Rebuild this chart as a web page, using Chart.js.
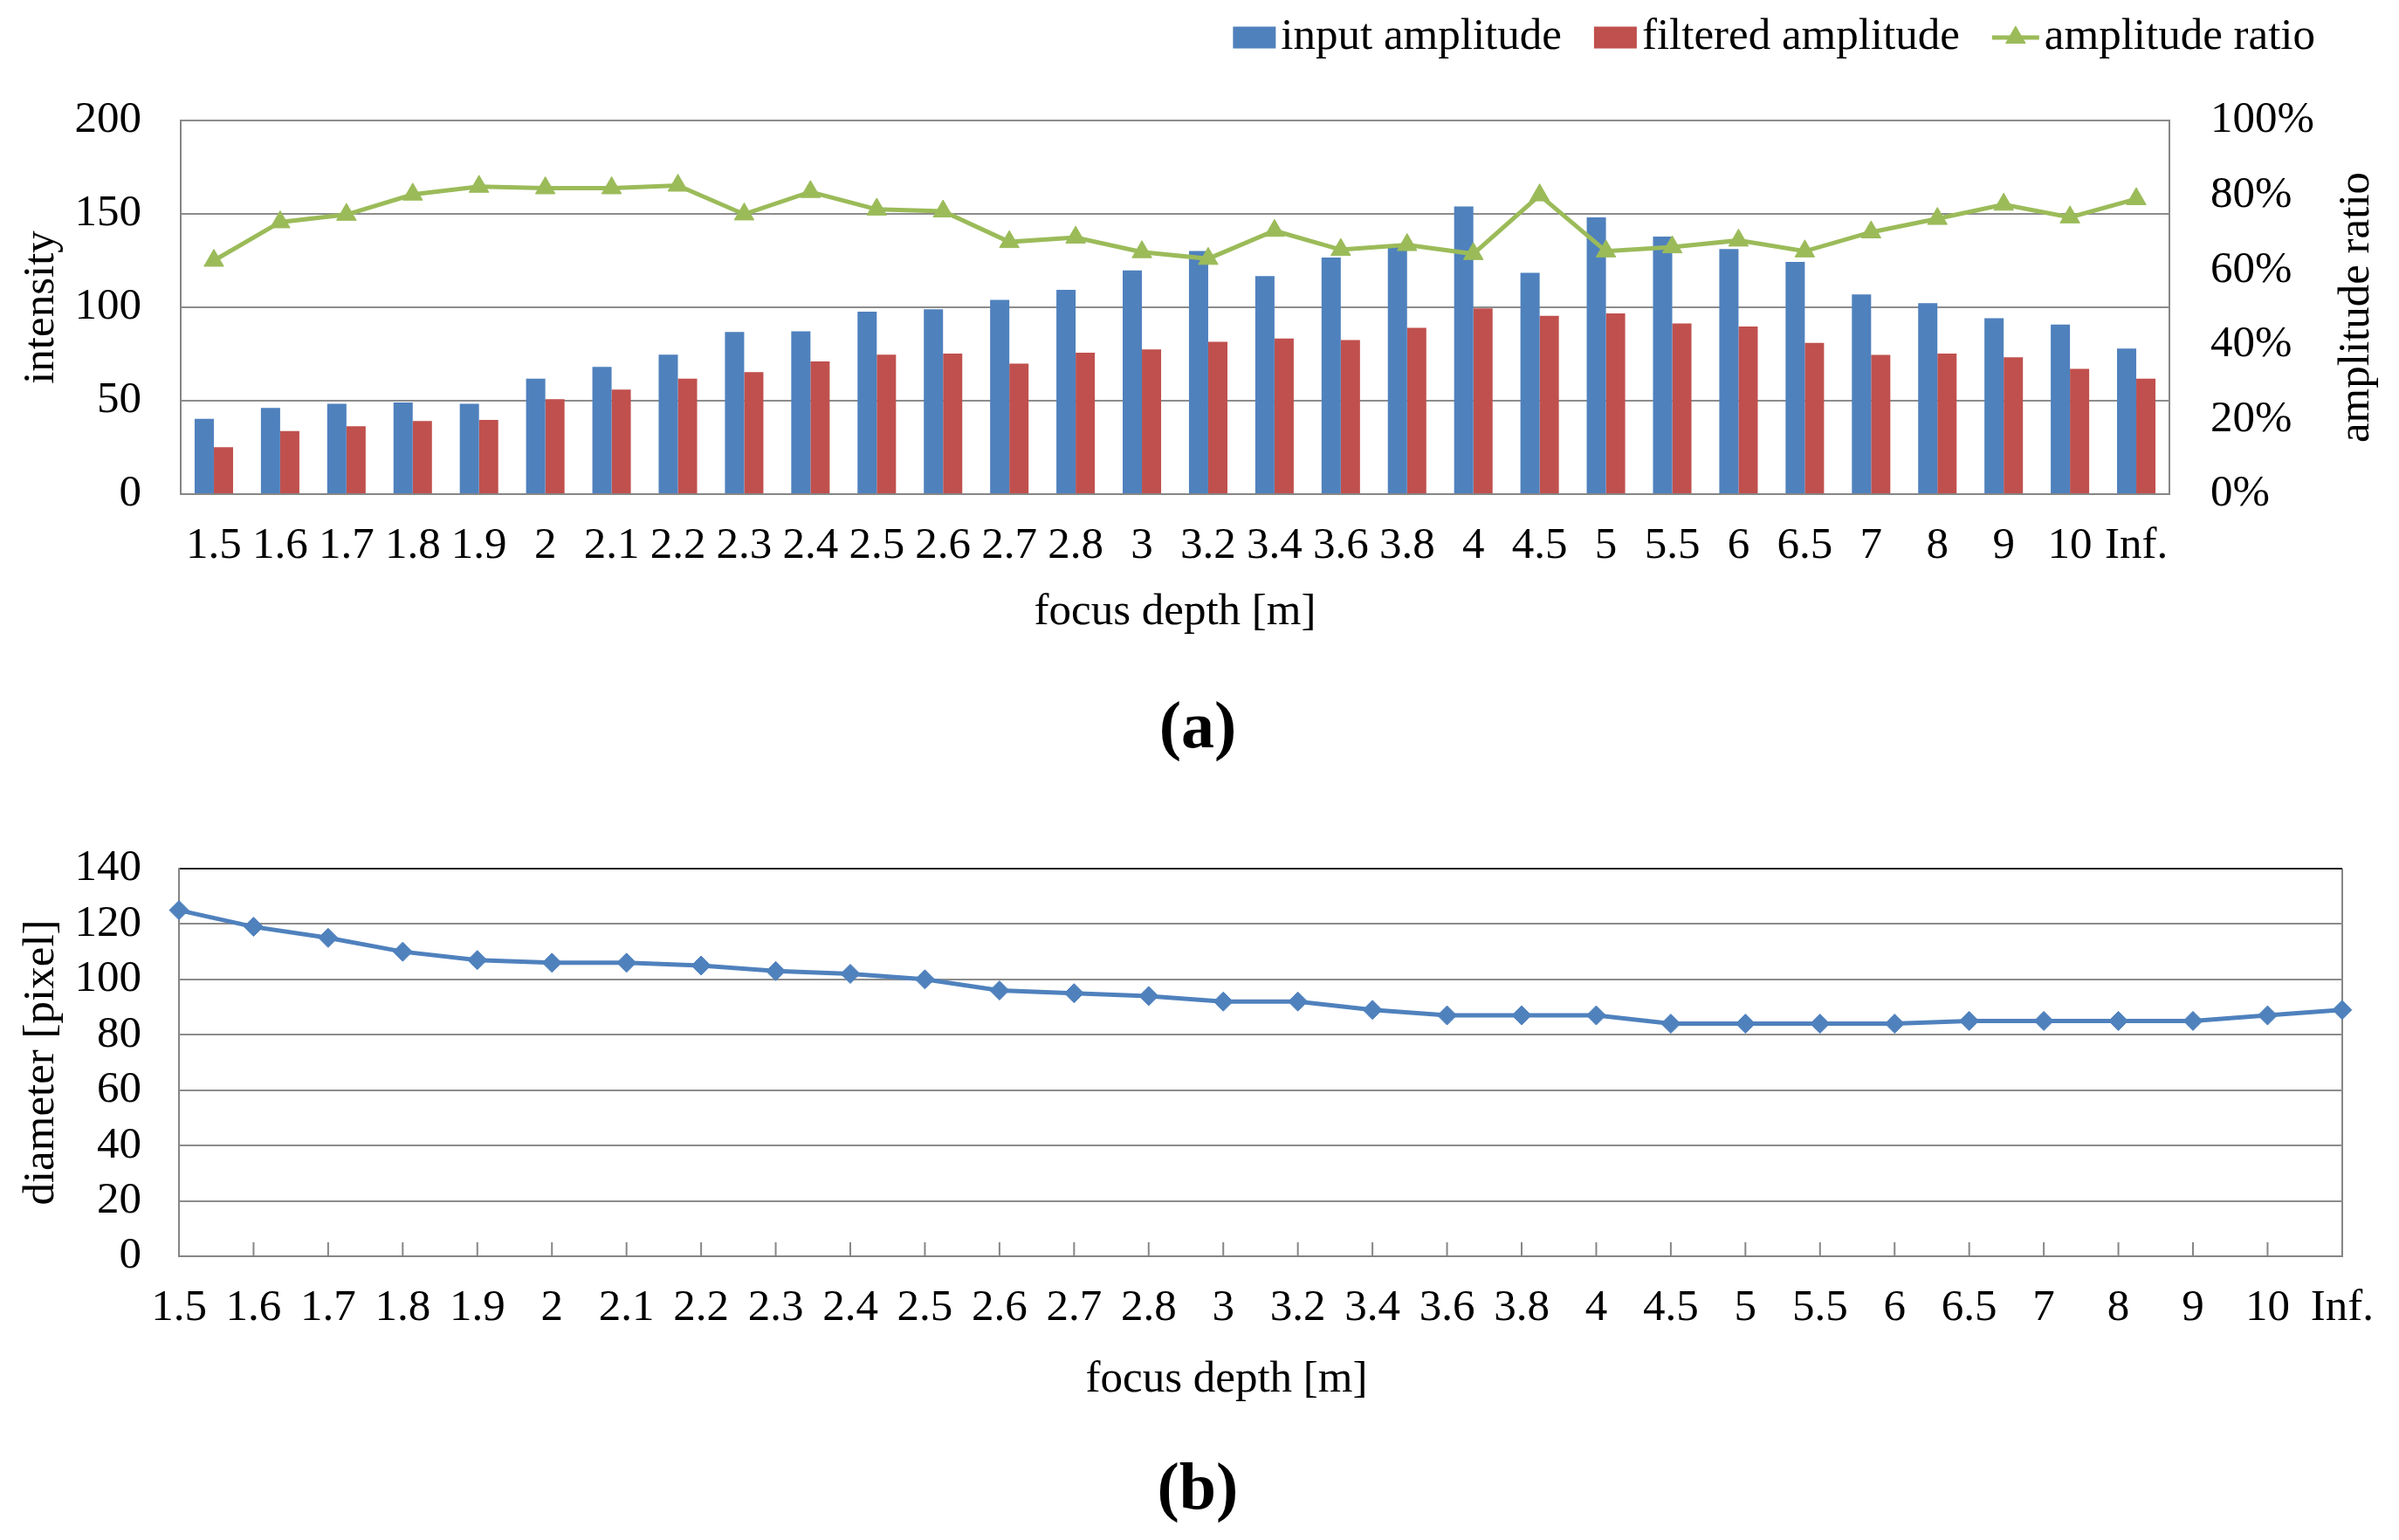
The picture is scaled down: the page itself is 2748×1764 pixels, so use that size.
<!DOCTYPE html>
<html>
<head>
<meta charset="utf-8">
<script src="https://cdn.jsdelivr.net/npm/chart.js@4.4.1/dist/chart.umd.min.js"></script>
<style>
  html, body { margin: 0; padding: 0; background: #fff; }
  body { width: 2748px; height: 1764px; position: relative; overflow: hidden; font-family: 'Liberation Serif', serif; }
  canvas { position: absolute; left: 0; }
  #chartA { top: 0; }
  #chartB { top: 880px; }
  .panel { position: absolute; left: 1272px; width: 200px; text-align: center; font-weight: bold; font-size: 76px; line-height: 76px; color: #000; }
</style>
</head>
<body>
<canvas id="chartA" width="2748" height="760"></canvas>
<canvas id="chartB" width="2748" height="760"></canvas>
<div class="panel" style="top:792px">(a)</div>
<div class="panel" style="top:1664px">(b)</div>
<script>
// focus depths on the x axis
var depthLabels = ['1.5', '1.6', '1.7', '1.8', '1.9', '2', '2.1', '2.2', '2.3', '2.4', '2.5', '2.6', '2.7', '2.8', '3',
                   '3.2', '3.4', '3.6', '3.8', '4', '4.5', '5', '5.5', '6', '6.5', '7', '8', '9', '10', 'Inf.'];
var seriesNames = ['input amplitude', 'filtered amplitude', 'amplitude ratio'];

// (a) intensities and ratio (%)
var inputAmplitude = [40.3, 46.1, 48.4, 49.1, 48.4, 61.8, 68.1, 74.6, 86.8, 87.2, 97.7, 98.9, 104.0, 109.3, 119.8,
                      130.1, 116.7, 126.6, 133.0, 154.0, 118.5, 148.1, 137.9, 131.2, 124.3, 106.9, 102.2, 94.2, 90.8, 77.9];
var filteredAmplitude = [25.1, 33.8, 36.3, 39.1, 39.7, 50.8, 55.9, 61.8, 65.3, 71.0, 74.6, 75.2, 69.9, 75.7, 77.4,
                         81.5, 83.3, 82.5, 89.0, 99.4, 95.4, 96.7, 91.3, 89.7, 80.9, 74.5, 75.2, 73.2, 67.0, 61.8];
var amplitudeRatio = [62.5, 72.8, 74.8, 80.2, 82.3, 81.9, 81.9, 82.6, 74.9, 80.9, 76.2, 75.7, 67.5, 68.7, 64.8,
                      63.0, 70.5, 65.4, 66.7, 64.3, 80.0, 65.0, 66.1, 67.9, 65.0, 70.1, 73.7, 77.5, 74.1, 79.0];

// (b) blur diameter in pixels
var diameterPx = [125, 119, 115, 110, 107, 106, 106, 105, 103, 102, 100, 96, 95, 94, 92,
                  92, 89, 87, 87, 87, 84, 84, 84, 84, 85, 85, 85, 85, 87, 89];

// axis ticks
var intensityTicks = { min: 0, max: 200, step: 50 };
var ratioTicks = { min: 0, max: 100, step: 20 };
var diameterTicks = { min: 0, max: 140, step: 20 };

var blue = '#4F81BD';
var red = '#C0504D';
var green = '#9BBB59';
var gridGrey = '#8c8c8c';
var axisGrey = '#868686';
var fontFamily = "'Liberation Serif', 'Times New Roman', serif";
var font = { family: fontFamily, size: 51 };

// legend drawn above the plot, right aligned like the original
var topLegend = {
    id: 'topLegend',
    afterDraw: function (chart) {
        var ctx = chart.ctx;
        var cy = 43;
        var gap = 6, itemGap = 37;
        var marks = [{ w: 49, color: blue, kind: 'box' }, { w: 49, color: red, kind: 'box' }, { w: 54, color: green, kind: 'line' }];
        ctx.save();
        ctx.font = '51px ' + fontFamily;
        ctx.textBaseline = 'middle';
        var total = 0;
        var widths = seriesNames.map(function (name, i) {
            var w = marks[i].w + gap + ctx.measureText(name).width;
            total += w;
            return w;
        });
        total += itemGap * (seriesNames.length - 1);
        var x = 2652 - total;
        seriesNames.forEach(function (name, i) {
            var m = marks[i];
            if (m.kind === 'box') {
                ctx.fillStyle = m.color;
                ctx.fillRect(x, cy - 12.5, m.w, 25);
            } else {
                ctx.strokeStyle = m.color;
                ctx.fillStyle = m.color;
                ctx.lineWidth = 5;
                ctx.beginPath();
                ctx.moveTo(x, cy);
                ctx.lineTo(x + m.w, cy);
                ctx.stroke();
                ctx.lineWidth = 1;
                Chart.helpers.drawPoint(ctx, { pointStyle: 'triangle', radius: 13, rotation: 0, borderWidth: 1 }, x + m.w / 2, cy);
            }
            ctx.fillStyle = '#000';
            ctx.textAlign = 'left';
            ctx.fillText(name, x + m.w + gap, cy);
            x += widths[i] + itemGap;
        });
        ctx.restore();
    }
};

// right axis title, read bottom to top
var ratioTitle = {
    id: 'ratioTitle',
    afterDraw: function (chart) {
        var ctx = chart.ctx;
        var area = chart.chartArea;
        ctx.save();
        ctx.font = '51px ' + fontFamily;
        ctx.fillStyle = '#000';
        ctx.textAlign = 'center';
        ctx.textBaseline = 'middle';
        ctx.translate(2700, (area.top + area.bottom) / 2);
        ctx.rotate(-Math.PI / 2);
        ctx.fillText('amplitude ratio', 0, 0);
        ctx.restore();
    }
};

// (b) x title sits a little left of the plot centre in the original
var depthTitleB = {
    id: 'depthTitleB',
    afterDraw: function (chart) {
        var ctx = chart.ctx;
        ctx.save();
        ctx.font = '51px ' + fontFamily;
        ctx.fillStyle = '#000';
        ctx.textAlign = 'center';
        ctx.textBaseline = 'middle';
        ctx.fillText('focus depth [m]', 1405, 701);
        ctx.restore();
    }
};

// small tick marks pointing up into the plot
var innerTicks = {
    id: 'innerTicks',
    beforeDatasetsDraw: function (chart) {
        var ctx = chart.ctx;
        var xs = chart.scales.x;
        var bottom = chart.chartArea.bottom;
        ctx.save();
        ctx.strokeStyle = axisGrey;
        ctx.lineWidth = 2;
        xs.ticks.forEach(function (t, i) {
            var px = xs.getPixelForTick(i);
            ctx.beginPath();
            ctx.moveTo(px, bottom);
            ctx.lineTo(px, bottom - 16);
            ctx.stroke();
        });
        ctx.restore();
    }
};

function drawCharts() {
    Chart.defaults.font.family = fontFamily;
    Chart.defaults.font.size = 51;
    Chart.defaults.color = '#000';

    new Chart(document.getElementById('chartA'), {
        type: 'bar',
        data: {
            labels: depthLabels,
            datasets: [
                {
                    label: seriesNames[0],
                    data: inputAmplitude,
                    backgroundColor: blue,
                    borderWidth: 0,
                    barPercentage: 1,
                    categoryPercentage: 0.58,
                    order: 1
                },
                {
                    label: seriesNames[1],
                    data: filteredAmplitude,
                    backgroundColor: red,
                    borderWidth: 0,
                    barPercentage: 1,
                    categoryPercentage: 0.58,
                    order: 1
                },
                {
                    type: 'line',
                    label: seriesNames[2],
                    data: amplitudeRatio,
                    yAxisID: 'y2',
                    borderColor: green,
                    backgroundColor: green,
                    borderWidth: 5,
                    pointStyle: 'triangle',
                    pointRadius: 13,
                    pointBorderWidth: 1,
                    pointBorderColor: green,
                    pointBackgroundColor: green,
                    tension: 0,
                    clip: false,
                    order: 0
                }
            ]
        },
        options: {
            responsive: false,
            animation: false,
            devicePixelRatio: 1,
            layout: { padding: { top: 138, right: 0, bottom: 0, left: 0 } },
            plugins: { legend: { display: false }, tooltip: { enabled: false } },
            scales: {
                x: {
                    offset: true,
                    grid: { display: false, drawTicks: false },
                    border: { display: true, color: axisGrey, width: 2 },
                    ticks: { font: font, color: '#000', padding: 29, autoSkip: false, maxRotation: 0 },
                    title: { display: true, text: 'focus depth [m]', font: font, color: '#000', padding: { top: 0, bottom: 28 } },
                    afterFit: function (s) { s.height = 194; }
                },
                y: {
                    position: 'left',
                    min: intensityTicks.min,
                    max: intensityTicks.max,
                    ticks: { stepSize: intensityTicks.step, font: font, color: '#000', padding: 45, autoSkip: false },
                    grid: { color: gridGrey, lineWidth: 2, drawTicks: false },
                    border: { color: axisGrey, width: 2 },
                    title: { display: true, text: 'intensity', font: font, color: '#000', padding: { top: 17, bottom: 0 } },
                    afterFit: function (s) { s.width = 207; }
                },
                y2: {
                    position: 'right',
                    min: ratioTicks.min,
                    max: ratioTicks.max,
                    ticks: { stepSize: ratioTicks.step, font: font, color: '#000', padding: 47, autoSkip: false,
                             callback: function (v) { return v + '%'; } },
                    grid: { display: false, drawTicks: false },
                    border: { color: axisGrey, width: 2 },
                    afterFit: function (s) { s.width = 263; }
                }
            }
        },
        plugins: [topLegend, ratioTitle]
    });

    new Chart(document.getElementById('chartB'), {
        type: 'line',
        data: {
            labels: depthLabels,
            datasets: [{
                label: 'diameter [pixel]',
                data: diameterPx,
                borderColor: blue,
                backgroundColor: blue,
                borderWidth: 5,
                pointStyle: 'rectRot',
                pointRadius: 11,
                pointBorderWidth: 1,
                pointBorderColor: blue,
                pointBackgroundColor: blue,
                tension: 0,
                clip: false
            }]
        },
        options: {
            responsive: false,
            animation: false,
            devicePixelRatio: 1,
            layout: { padding: { top: 115, right: 63, bottom: 0, left: 0 } },
            plugins: { legend: { display: false }, tooltip: { enabled: false } },
            scales: {
                x: {
                    offset: false,
                    grid: {
                        drawTicks: false,
                        lineWidth: 2,
                        color: function (c) { return c.index === depthLabels.length - 1 ? axisGrey : 'rgba(0,0,0,0)'; }
                    },
                    border: { display: true, color: axisGrey, width: 2 },
                    ticks: { font: font, color: '#000', padding: 29, autoSkip: false, maxRotation: 0 },
                    title: { display: false },
                    afterFit: function (s) { s.height = 201; }
                },
                y: {
                    min: diameterTicks.min,
                    max: diameterTicks.max,
                    ticks: { stepSize: diameterTicks.step, font: font, color: '#000', padding: 43, autoSkip: false },
                    grid: {
                        drawTicks: false,
                        lineWidth: 2,
                        color: function (c) { return c.tick && c.tick.value === diameterTicks.max ? '#1f1f1f' : gridGrey; }
                    },
                    border: { color: axisGrey, width: 2 },
                    title: { display: true, text: 'diameter [pixel]', font: font, color: '#000', padding: { top: 17, bottom: 0 } },
                    afterFit: function (s) { s.width = 205; }
                }
            }
        },
        plugins: [innerTicks, depthTitleB]
    });
}

if (document.fonts && document.fonts.load) {
    document.fonts.load("51px 'Liberation Serif'").then(drawCharts, drawCharts);
} else {
    drawCharts();
}
</script>
</body>
</html>
